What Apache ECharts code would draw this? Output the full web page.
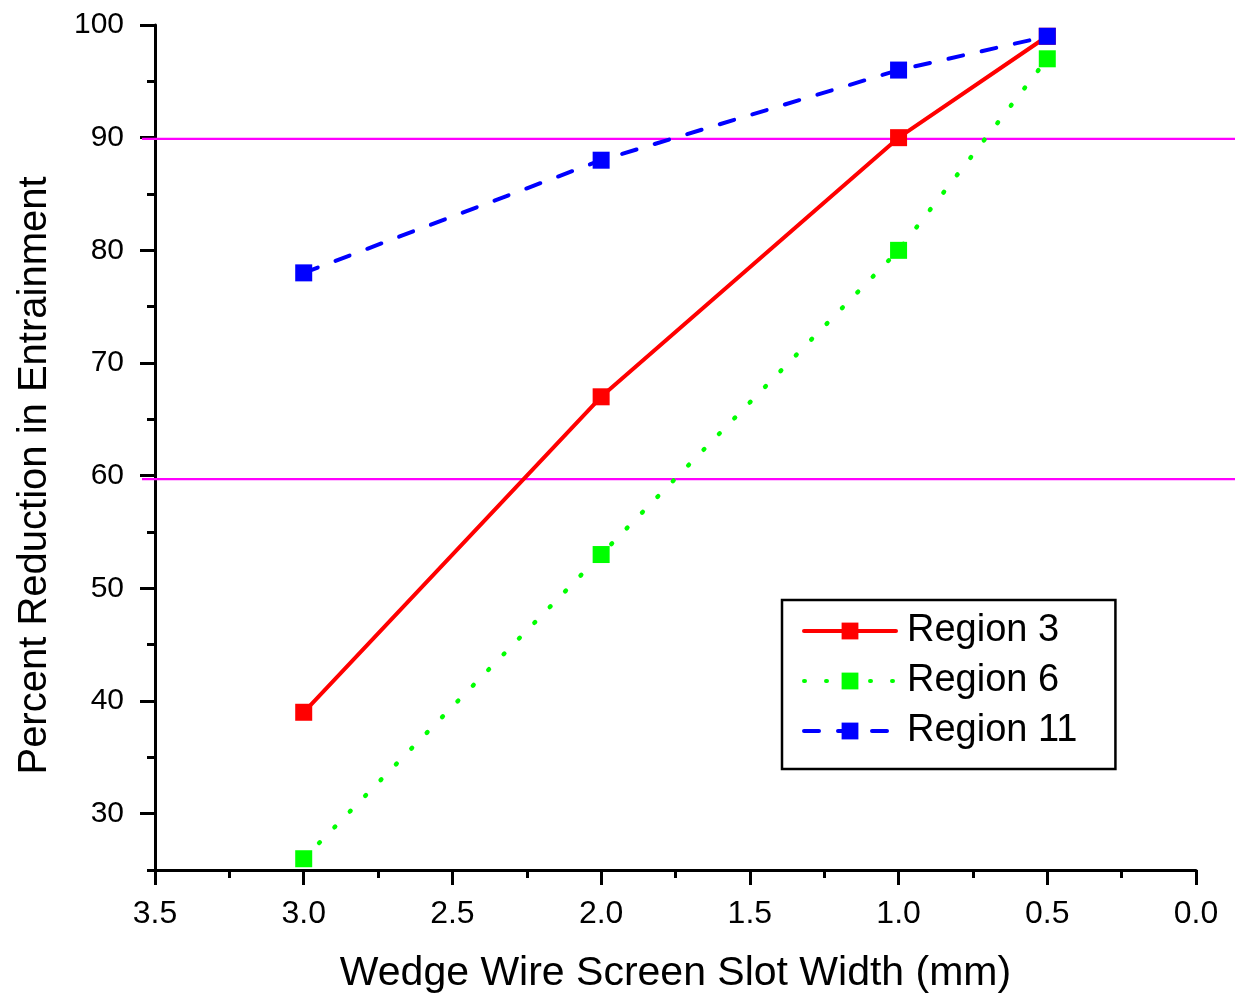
<!DOCTYPE html>
<html>
<head>
<meta charset="utf-8">
<script src="https://cdn.jsdelivr.net/npm/echarts@6/dist/echarts.min.js"></script>
<style>html,body{margin:0;padding:0;background:#fff}#c{width:1235px;height:1000px}</style>
</head>
<body>
<div id="c"></div>
<script>
const slotWidths = [3.0, 2.0, 1.0, 0.5];
const region3 = [39, 67, 90, 99];
const region6 = [26, 53, 80, 97];
const region11 = [78, 88, 96, 99];
const refLines = [89.9, 59.7];
const yMajorTicks = [30, 40, 50, 60, 70, 80, 90, 100];
const yMinorTicks = [25, 35, 45, 55, 65, 75, 85, 95];
const xMin = 0, xMax = 3.5, xStep = 0.5;
const yMin = 25, yMax = 100;

const FONT = "'Liberation Sans', Arial, sans-serif";
const pairs = arr => slotWidths.map((x, i) => [x, arr[i]]);

const chart = echarts.init(document.getElementById('c'), null, {renderer: 'canvas'});
const refSeries = refLines.map(v => ({
  type: 'line', xAxisIndex: 1, yAxisIndex: 2, silent: true, symbol: 'none', z: 1,
  lineStyle: {color: '#FF00FF', width: 2.2}, data: [[0, v], [1, v]]
}));
chart.setOption({
  animation: false,
  textStyle: {fontFamily: FONT},
  grid: [
    {left: 155, right: 39, top: 25, bottom: 130},
    {left: 142, right: 0, top: 25, bottom: 130}
  ],
  xAxis: [{
    type: 'value', gridIndex: 0, position: 'bottom', inverse: true, min: xMin, max: xMax, interval: xStep,
    splitLine: {show: false},
    axisLine: {lineStyle: {color: '#000', width: 3}},
    axisTick: {inside: false, length: 15, lineStyle: {color: '#000', width: 3}},
    minorTick: {show: true, splitNumber: 2, length: 8, lineStyle: {color: '#000', width: 3}},
    axisLabel: {color: '#000', fontSize: 32, margin: 28, fontFamily: FONT,
      formatter: v => v.toFixed(1)},
    name: 'Wedge Wire Screen Slot Width (mm)', nameLocation: 'middle', nameGap: 83,
    nameTextStyle: {color: '#000', fontSize: 41, fontFamily: FONT}
  }, {
    type: 'value', gridIndex: 1, position: 'bottom', min: 0, max: 1, show: false
  }],
  yAxis: [{
    type: 'value', gridIndex: 0, position: 'left', offset: 0, min: yMin, max: yMax, interval: 5,
    splitLine: {show: false},
    axisLine: {onZero: false, lineStyle: {color: '#000', width: 3}},
    axisTick: {inside: false, length: 15, customValues: yMajorTicks, lineStyle: {color: '#000', width: 3}},
    axisLabel: {color: '#000', fontSize: 30, margin: 31, fontFamily: FONT, customValues: yMajorTicks},
    name: 'Percent Reduction in Entrainment', nameLocation: 'middle', nameGap: 100, nameRotate: 90,
    nameTextStyle: {color: '#000', fontSize: 40, fontFamily: FONT, padding: [0, 56, 0, 0]}
  }, {
    type: 'value', gridIndex: 0, position: 'left', offset: 0, min: yMin, max: yMax, interval: 5,
    splitLine: {show: false}, axisLine: {show: false, onZero: false},
    axisTick: {inside: false, length: 8, customValues: yMinorTicks, lineStyle: {color: '#000', width: 3}},
    axisLabel: {show: false}
  }, {
    type: 'value', gridIndex: 1, position: 'left', min: yMin, max: yMax, show: false
  }],
  legend: {
    orient: 'vertical', left: 782, top: 600,
    padding: [11, 38, 18, 20],
    itemWidth: 92, itemHeight: 21, itemGap: 10,
    borderColor: '#000', borderWidth: 2.5,
    lineStyle: {width: 4, cap: 'round'},
    textStyle: {color: '#000', fontSize: 38, lineHeight: 40, fontFamily: FONT, padding: [0, 0, 0, 6]},
    data: ['Region 3', 'Region 6', 'Region 11']
  },
  series: [
    ...refSeries,
    {
      name: 'Region 3', type: 'line', data: pairs(region3), z: 3,
      xAxisIndex: 0, yAxisIndex: 0,
      symbol: 'rect', symbolSize: 17,
      lineStyle: {color: '#FF0000', width: 4},
      itemStyle: {color: '#FF0000'}
    },
    {
      name: 'Region 6', type: 'line', data: pairs(region6), z: 3,
      xAxisIndex: 0, yAxisIndex: 0,
      symbol: 'rect', symbolSize: 17,
      lineStyle: {color: '#00FF00', width: 4.5, type: [1, 21], cap: 'round'},
      itemStyle: {color: '#00FF00'}
    },
    {
      name: 'Region 11', type: 'line', data: pairs(region11), z: 3,
      xAxisIndex: 0, yAxisIndex: 0,
      symbol: 'rect', symbolSize: 17,
      lineStyle: {color: '#0000FF', width: 4, type: [15, 19], cap: 'round'},
      itemStyle: {color: '#0000FF'}
    }
  ]
});
</script>
</body>
</html>
